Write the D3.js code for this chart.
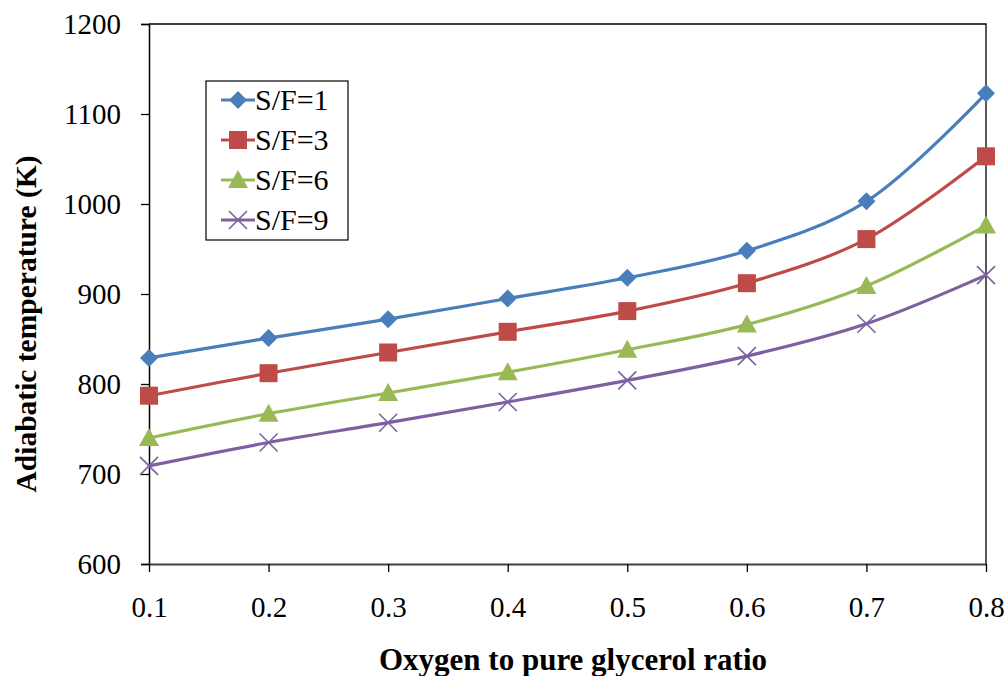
<!DOCTYPE html>
<html>
<head>
<meta charset="utf-8">
<script src="https://cdn.jsdelivr.net/npm/d3@7"></script>
<style>
  html, body { margin: 0; padding: 0; background: #fff; }
  svg { display: block; }
</style>
</head>
<body>
<svg id="chart" width="1008" height="676"></svg>
<script>
// Oxygen-to-glycerol ratio on the x axis
const ratios = [0.1, 0.2, 0.3, 0.4, 0.5, 0.6, 0.7, 0.8];

// Adiabatic temperature (K) for each steam-to-feed ratio
const sf1 = [829, 851, 872, 895, 918, 948, 1003, 1123];
const sf3 = [787, 812, 835, 858, 881, 912, 961, 1053];
const sf6 = [740, 767, 790, 813, 838, 866, 909, 976];
const sf9 = [709, 735, 757, 780, 804, 831, 867, 921];

const seriesNames = ["S/F=1", "S/F=3", "S/F=6", "S/F=9"];
const xTicks = [0.1, 0.2, 0.3, 0.4, 0.5, 0.6, 0.7, 0.8];
const yTicks = [600, 700, 800, 900, 1000, 1100, 1200];

const FONT = "Liberation Serif";

const series = [
  { name: seriesNames[0], values: sf1, color: "#4A7EBB", marker: "diamond" },
  { name: seriesNames[1], values: sf3, color: "#BE4B48", marker: "square" },
  { name: seriesNames[2], values: sf6, color: "#98B954", marker: "triangle" },
  { name: seriesNames[3], values: sf9, color: "#7D60A0", marker: "cross" }
];

const svg = d3.select("#chart");
const plot = { left: 149, right: 986, top: 24, bottom: 564 };

const x = d3.scaleLinear().domain([0.1, 0.8]).range([plot.left, plot.right]);
const y = d3.scaleLinear().domain([600, 1200]).range([plot.bottom, plot.top]);

// plot frame (top and right edges)
svg.append("path")
  .attr("d", `M${plot.left},${plot.top}H${plot.right}V${plot.bottom}`)
  .attr("fill", "none").attr("stroke", "#000").attr("stroke-width", 1.3);

// y axis
const yAxis = svg.append("g")
  .attr("transform", `translate(${plot.left},0)`)
  .call(d3.axisLeft(y).tickValues(yTicks).tickSize(8).tickPadding(20).tickFormat(d3.format("d")));
yAxis.select(".domain").attr("stroke", "#000").attr("stroke-width", 1.5);
yAxis.selectAll(".tick line").attr("stroke", "#000").attr("stroke-width", 1.3);
yAxis.selectAll("text").style("font-family", FONT).style("font-size", "29px").attr("fill", "#000");

// x axis
const xAxis = svg.append("g")
  .attr("transform", `translate(0,${plot.bottom})`)
  .call(d3.axisBottom(x).tickValues(xTicks).tickSize(8).tickSizeOuter(0).tickPadding(24).tickFormat(d3.format(".1f")));
xAxis.select(".domain").attr("stroke", "#404040").attr("stroke-width", 2.2);
xAxis.selectAll(".tick line").attr("stroke", "#000").attr("stroke-width", 1.3);
xAxis.selectAll("text").style("font-family", FONT).style("font-size", "29px").attr("fill", "#000");

// axis titles
svg.append("text")
  .attr("x", 573).attr("y", 670)
  .attr("text-anchor", "middle")
  .style("font-family", FONT).style("font-size", "31px").style("font-weight", "bold")
  .text("Oxygen to pure glycerol ratio");

svg.append("text")
  .attr("transform", "translate(36,324) rotate(-90)")
  .attr("text-anchor", "middle")
  .style("font-family", FONT).style("font-size", "29.5px").style("font-weight", "bold")
  .text("Adiabatic temperature (K)");

// marker drawing
function drawMarker(g, type, color) {
  if (type === "diamond") {
    g.append("path").attr("d", "M0,-9L9,0L0,9L-9,0Z").attr("fill", color);
  } else if (type === "square") {
    g.append("rect").attr("x", -9).attr("y", -9).attr("width", 18).attr("height", 18).attr("fill", color);
  } else if (type === "triangle") {
    g.append("path").attr("d", "M0,-10L10,8L-10,8Z").attr("fill", color);
  } else {
    g.append("path").attr("d", "M-9,-9L9,9M-9,9L9,-9").attr("stroke", color).attr("stroke-width", 1.6).attr("fill", "none");
  }
}

const line = d3.line()
  .x((d, i) => x(ratios[i]))
  .y(d => y(d))
  .curve(d3.curveCatmullRom.alpha(0.5));

series.forEach(s => {
  svg.append("path")
    .attr("d", line(s.values))
    .attr("fill", "none")
    .attr("stroke", s.color)
    .attr("stroke-width", 3.2);
  s.values.forEach((v, i) => {
    const g = svg.append("g").attr("transform", `translate(${x(ratios[i])},${y(v)})`);
    drawMarker(g, s.marker, s.color);
  });
});

// legend
const legend = svg.append("g").attr("transform", "translate(206,81)");
legend.append("rect")
  .attr("x", 0).attr("y", 0).attr("width", 142).attr("height", 159)
  .attr("fill", "#fff").attr("stroke", "#000").attr("stroke-width", 1.2);

series.forEach((s, i) => {
  const cy = 19 + i * 40;
  legend.append("line")
    .attr("x1", 15).attr("x2", 49).attr("y1", cy).attr("y2", cy)
    .attr("stroke", s.color).attr("stroke-width", 3.2);
  drawMarker(legend.append("g").attr("transform", `translate(32,${cy})`), s.marker, s.color);
  legend.append("text")
    .attr("x", 49).attr("y", cy + 10)
    .style("font-family", FONT).style("font-size", "30px")
    .text(s.name);
});
</script>
</body>
</html>
